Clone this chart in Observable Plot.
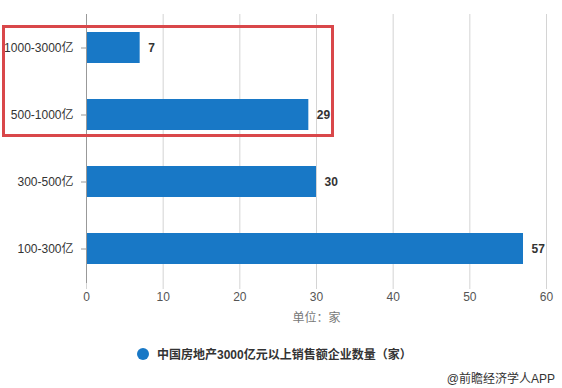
<!DOCTYPE html>
<html><head><meta charset="utf-8">
<script src="https://cdn.jsdelivr.net/npm/d3@7"></script>
<script src="https://cdn.jsdelivr.net/npm/@observablehq/plot@0.6"></script>
<style>
body{margin:0;background:#fff;}
#wrap{position:relative;width:562px;height:388px;font-family:"Liberation Sans","Noto Sans CJK SC",sans-serif;overflow:hidden;}
#box{position:absolute;left:2px;top:25px;width:326px;height:106px;border:3px solid #d9474a;}
#legend{position:absolute;left:137px;top:345px;font-size:12px;font-weight:bold;color:#333;display:flex;align-items:center;}
#legend span.dot{display:inline-block;width:12px;height:12px;border-radius:50%;background:#1878c6;margin-right:8px;}
#credit{position:absolute;right:7px;top:369px;font-size:12px;color:#333;}
</style></head>
<body><div id="wrap"><div id="chart"></div><div id="box"></div>
<div id="legend"><span class="dot"></span>中国房地产3000亿元以上销售额企业数量（家）</div>
<div id="credit">@前瞻经济学人APP</div></div>
<script>
const categories = ["1000-3000亿","500-1000亿","300-500亿","100-300亿"];
const counts = [7,29,30,57];
const xTicks = [0,10,20,30,40,50,60];
const unitLabel = "单位：家";

const data = categories.map((c,i)=>({cat:c, n:counts[i]}));
const chart = Plot.plot({
  width:562, height:330,
  marginLeft:86, marginRight:16, marginTop:14, marginBottom:47,
  style:{fontFamily:'"Liberation Sans","Noto Sans CJK SC",sans-serif', fontSize:"12px", color:"#444", background:"#fff"},
  x:{domain:[0,60], label:null},
  y:{domain:categories, paddingInner:0.53, paddingOuter:0.26, label:null},
  marks:[
    Plot.gridX(xTicks, {stroke:"#d4d4d4", strokeOpacity:1}),
    Plot.axisX(xTicks, {tickSize:6, stroke:"#d4d4d4", tickPadding:3, fill:"#555", fontSize:12, label:null}),
    Plot.text([unitLabel], {frameAnchor:"bottom", dy:38, fill:"#777", fontSize:12}),
    Plot.barX(data, {x:"n", y:"cat", fill:"#1878c6"}),
    Plot.ruleX([0], {stroke:"#999"}),
    Plot.axisY({tickSize:5, tickPadding:8, stroke:"#999", fill:"#333", fontSize:12, label:null}),
    Plot.text(data, {x:"n", y:"cat", text:d=>String(d.n), dx:8, textAnchor:"start", fontWeight:"bold", fontSize:12, fill:"#333"})
  ]
});
document.getElementById("chart").appendChild(chart);
</script></body></html>
